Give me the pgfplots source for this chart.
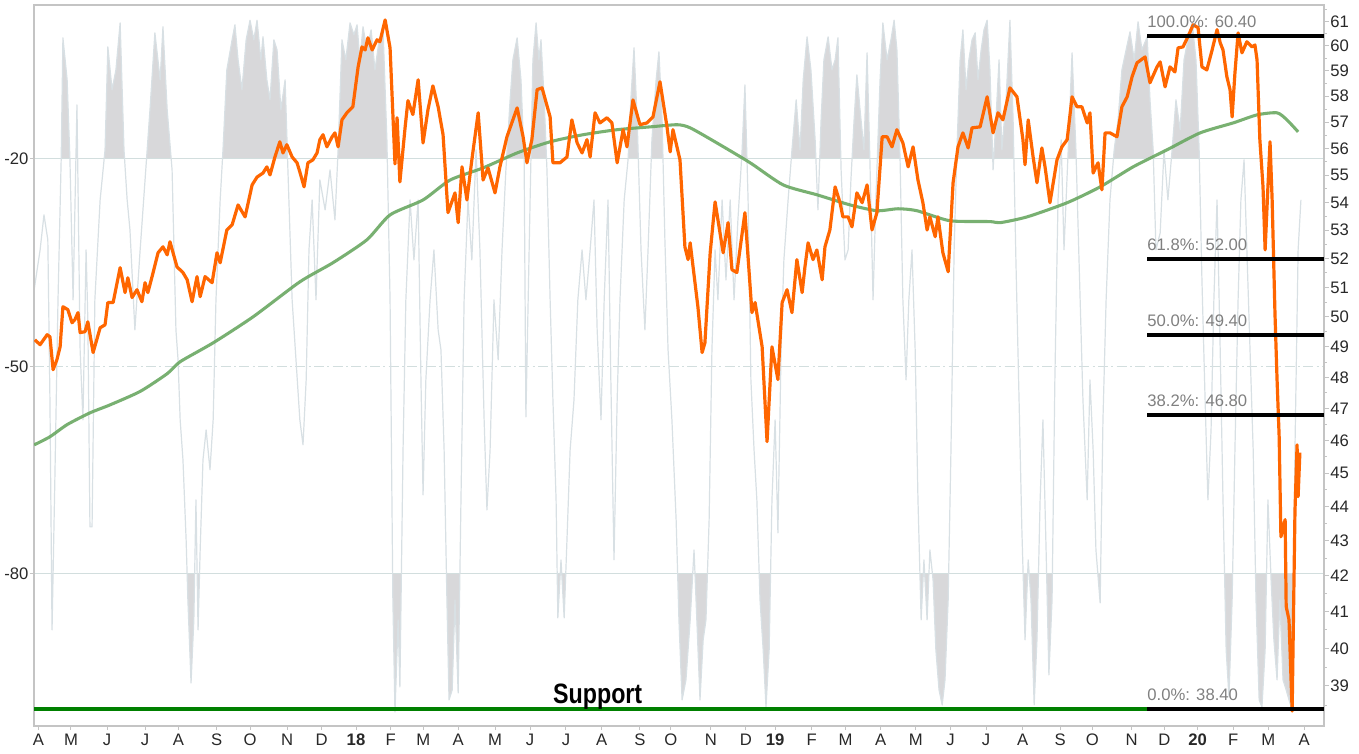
\documentclass[border=0pt]{standalone}
\usepackage{pgfplots}
\pgfplotsset{compat=1.18}
\usepackage{pgfplotstable}
\usepackage{fontspec}
\setmainfont{Liberation Sans}

\definecolor{pricec}{RGB}{255,102,0}
\definecolor{mac}{RGB}{106,168,98}
\definecolor{oscfill}{RGB}{216,216,218}
\definecolor{oscline}{RGB}{216,224,228}
\definecolor{gridc}{RGB}{210,222,222}
\definecolor{framec}{RGB}{196,196,196}
\definecolor{supc}{RGB}{0,128,0}
\definecolor{fibtxt}{RGB}{128,128,128}
\definecolor{tickc}{RGB}{40,40,40}

% price (x: months since 1 Apr 2017, y: price)
\pgfplotstableread{
m p
-0.09 49.23
0.06 49.07
0.26 49.40
0.34 49.33
0.43 48.25
0.54 48.58
0.63 49.00
0.71 50.34
0.85 50.24
0.97 49.80
1.05 49.90
1.14 50.14
1.20 49.47
1.34 49.50
1.42 49.83
1.57 48.81
1.77 49.63
1.91 49.73
1.99 50.48
2.14 50.48
2.34 51.68
2.48 50.82
2.56 51.33
2.68 50.65
2.82 50.92
2.96 50.51
3.05 51.16
3.13 50.82
3.28 51.51
3.42 52.20
3.56 52.41
3.68 52.13
3.76 52.59
3.96 51.71
4.13 51.51
4.25 51.26
4.39 50.51
4.53 51.37
4.62 50.68
4.76 51.37
4.96 51.16
5.10 52.20
5.19 51.85
5.38 53.01
5.53 53.19
5.70 53.91
5.90 53.48
6.10 54.64
6.24 54.93
6.41 55.08
6.52 55.31
6.61 55.01
6.75 55.68
6.89 56.25
6.98 55.83
7.09 56.14
7.24 55.68
7.38 55.46
7.46 55.12
7.58 54.57
7.69 55.46
7.83 55.57
7.95 55.83
8.03 56.33
8.12 56.52
8.23 56.06
8.38 56.44
8.46 56.59
8.55 56.06
8.66 57.09
8.80 57.36
8.97 57.59
9.12 59.16
9.23 59.96
9.32 59.84
9.40 60.33
9.52 59.84
9.66 60.25
9.74 60.17
9.89 61.06
10.03 59.92
10.17 55.42
10.23 57.17
10.31 54.75
10.46 56.82
10.54 57.83
10.68 57.29
10.83 58.65
10.97 56.21
11.11 57.48
11.25 58.41
11.40 57.59
11.54 56.52
11.68 53.63
11.88 54.35
11.97 53.27
12.08 55.31
12.22 54.09
12.36 55.57
12.54 57.36
12.68 54.82
12.82 55.27
13.02 54.35
13.16 55.31
13.36 56.44
13.65 57.55
13.82 56.44
13.93 55.46
14.07 56.33
14.22 58.26
14.36 58.33
14.59 57.20
14.67 55.46
14.87 55.46
15.07 55.68
15.21 57.09
15.36 56.21
15.50 55.83
15.64 56.33
15.73 55.68
15.87 57.36
16.01 56.97
16.21 57.17
16.35 56.97
16.50 55.46
16.67 56.71
16.78 56.06
16.95 57.86
17.15 56.90
17.35 56.97
17.52 57.20
17.72 58.57
17.92 56.82
18.01 55.87
18.09 56.71
18.29 55.57
18.43 52.41
18.52 51.96
18.58 52.55
18.80 50.34
18.92 48.81
19.00 49.13
19.15 52.20
19.29 54.02
19.52 52.20
19.66 53.27
19.77 51.61
19.91 51.51
20.14 53.63
20.34 50.14
20.43 50.48
20.63 49.00
20.77 45.97
20.91 49.00
21.08 47.93
21.20 50.48
21.34 50.92
21.48 50.14
21.62 51.96
21.77 50.82
21.85 51.71
21.94 52.55
22.08 51.96
22.19 52.30
22.34 51.26
22.42 52.41
22.56 53.01
22.71 54.57
22.85 53.99
22.93 53.48
23.08 53.48
23.19 53.12
23.33 54.35
23.48 53.99
23.62 54.64
23.76 53.01
23.90 53.63
24.05 56.44
24.19 56.44
24.33 56.06
24.47 56.71
24.64 56.21
24.79 55.31
24.93 56.06
25.07 54.82
25.21 53.99
25.33 53.01
25.41 53.48
25.56 52.77
25.64 53.48
25.78 52.20
25.93 51.54
26.07 54.72
26.21 56.06
26.35 56.59
26.50 56.02
26.61 56.78
26.84 56.82
27.04 57.98
27.21 56.59
27.35 57.36
27.49 57.09
27.69 58.33
27.89 57.98
28.06 56.33
28.12 55.39
28.21 57.09
28.35 55.68
28.46 54.72
28.60 56.02
28.69 55.31
28.83 53.99
29.03 55.57
29.17 56.06
29.32 56.33
29.46 57.98
29.60 57.59
29.74 57.59
29.89 56.97
29.97 57.36
30.06 55.08
30.20 55.46
30.31 54.46
30.40 56.59
30.54 56.59
30.74 56.44
30.88 57.59
31.03 57.98
31.17 58.77
31.31 59.32
31.54 59.56
31.68 58.53
31.88 59.16
31.97 59.36
32.11 58.37
32.25 59.16
32.39 58.96
32.48 59.92
32.62 59.96
32.76 60.37
32.91 60.86
33.05 60.74
33.16 59.16
33.30 59.04
33.45 59.84
33.59 60.66
33.68 60.13
33.76 59.84
33.87 58.77
33.96 58.26
34.02 57.20
34.10 58.92
34.19 60.53
34.30 59.72
34.44 60.17
34.59 59.96
34.67 60.04
34.73 59.44
34.81 56.33
34.90 54.57
34.96 52.30
35.04 54.57
35.10 56.25
35.16 54.09
35.24 50.14
35.30 47.93
35.36 46.12
35.41 43.12
35.53 43.62
35.56 41.14
35.64 40.78
35.73 38.35
35.81 43.85
35.87 45.87
35.90 44.30
35.95 45.63
}\price

% 200-day moving average
\pgfplotstableread{
m p
-0.11 45.87
0.34 46.12
0.83 46.50
1.48 46.87
2.05 47.12
2.91 47.55
3.68 48.12
4.05 48.51
4.99 49.13
6.13 50.00
7.46 51.19
8.40 51.85
9.37 52.66
10.03 53.55
10.97 54.09
11.74 54.82
12.68 55.27
13.65 55.83
14.59 56.25
15.53 56.52
16.50 56.71
17.44 56.82
18.21 56.90
18.58 56.78
19.34 56.21
20.29 55.46
21.23 54.64
22.19 54.28
23.14 53.91
23.90 53.70
24.50 53.77
25.04 53.70
25.98 53.34
27.12 53.31
27.41 53.27
28.18 53.48
29.32 53.99
30.26 54.57
31.20 55.31
32.17 55.95
33.11 56.59
34.05 56.97
34.73 57.28
35.30 57.36
35.58 57.09
35.90 56.63
}\ma

% oscillator (Williams %R)
\pgfplotstableread{
m v
-0.11 -38.96
0.06 -33.18
0.17 -28.12
0.28 -31.73
0.34 -54.85
0.40 -88.09
0.48 -66.41
0.57 -40.40
0.66 -20.17
0.71 -2.54
0.83 -8.61
0.91 -20.17
1.00 -40.40
1.11 -12.23
1.20 -47.63
1.28 -57.74
1.37 -33.18
1.42 -43.29
1.48 -73.20
1.54 -73.20
1.62 -40.40
1.77 -25.96
1.91 -18.73
1.99 -3.84
2.11 -10.06
2.22 -7.17
2.34 -0.38
2.45 -18.73
2.54 -25.96
2.62 -30.29
2.76 -44.74
2.91 -33.18
3.05 -23.06
3.19 -12.95
3.33 -1.82
3.48 -8.61
3.56 -0.95
3.68 -12.95
3.82 -21.62
3.93 -44.74
3.99 -49.07
4.05 -57.74
4.13 -63.52
4.22 -75.08
4.27 -83.75
4.36 -95.75
4.44 -86.64
4.50 -69.30
4.56 -88.09
4.62 -76.53
4.70 -63.52
4.79 -59.19
4.90 -64.96
4.99 -57.74
5.07 -40.40
5.19 -25.96
5.27 -18.73
5.38 -7.17
5.53 -2.83
5.61 -0.66
5.70 -5.72
5.81 -10.06
5.93 -2.83
6.04 0
6.15 -2.83
6.24 0
6.35 -5.72
6.41 -2.40
6.52 -8.61
6.61 -11.50
6.72 -2.83
6.81 -4.28
6.92 -12.95
7.04 -8.61
7.12 -21.62
7.24 -40.40
7.35 -49.07
7.46 -57.74
7.55 -61.35
7.64 -51.96
7.72 -33.18
7.81 -25.96
7.92 -40.40
8.03 -23.06
8.18 -27.40
8.32 -21.62
8.46 -28.85
8.55 -18.73
8.66 -2.83
8.77 -5.72
8.89 -0.38
9.00 -2.11
9.09 -0.66
9.17 -5.72
9.26 -0.95
9.37 -4.28
9.49 -1.39
9.60 -7.17
9.72 -2.83
9.83 -1.39
9.94 -17.28
10.03 -40.40
10.11 -83.75
10.17 -99.94
10.26 -86.64
10.31 -96.33
10.40 -62.08
10.48 -40.40
10.60 -25.96
10.71 -34.63
10.83 -25.96
10.91 -51.96
10.97 -68.58
11.05 -51.96
11.17 -40.40
11.28 -33.18
11.40 -44.74
11.48 -47.63
11.57 -62.08
11.65 -83.75
11.71 -98.20
11.80 -96.76
11.88 -83.75
11.97 -97.20
12.05 -69.30
12.14 -40.40
12.25 -25.96
12.36 -34.63
12.48 -18.73
12.59 -33.18
12.71 -57.74
12.79 -70.75
12.88 -62.08
12.99 -40.40
13.11 -49.07
13.22 -33.18
13.33 -21.62
13.45 -11.50
13.53 -5.72
13.65 -2.54
13.76 -8.61
13.85 -20.17
13.90 -57.31
14.02 -25.96
14.10 -5.72
14.19 -0.38
14.27 -5.72
14.33 -2.83
14.42 -11.50
14.50 -21.62
14.59 -40.40
14.67 -54.85
14.76 -69.30
14.81 -86.36
14.90 -77.97
14.99 -86.36
15.07 -75.08
15.16 -62.08
15.27 -54.85
15.38 -40.40
15.50 -33.18
15.61 -40.40
15.73 -33.18
15.84 -25.96
15.93 -44.74
16.04 -57.74
16.13 -40.40
16.24 -25.96
16.32 -51.96
16.41 -77.97
16.50 -54.85
16.58 -40.40
16.70 -25.96
16.81 -20.17
16.89 -11.50
16.98 -3.99
17.07 -14.39
17.18 -33.18
17.29 -44.74
17.38 -33.18
17.49 -17.28
17.61 -8.61
17.69 -4.57
17.78 -14.39
17.86 -31.73
17.95 -47.63
18.06 -57.74
18.18 -72.19
18.26 -86.64
18.35 -98.20
18.46 -95.31
18.58 -86.64
18.69 -76.53
18.77 -86.64
18.86 -98.20
18.95 -89.53
19.03 -86.64
19.12 -72.19
19.20 -47.63
19.29 -33.18
19.37 -40.40
19.49 -25.96
19.60 -37.52
19.72 -25.96
19.83 -40.40
19.94 -28.85
20.06 -18.73
20.14 -9.34
20.23 -25.96
20.31 -51.96
20.40 -62.08
20.48 -69.30
20.57 -83.75
20.66 -90.98
20.74 -99.22
20.83 -90.98
20.91 -69.30
21.00 -57.74
21.08 -74.07
21.17 -47.63
21.25 -34.63
21.37 -25.96
21.48 -18.73
21.60 -11.50
21.71 -18.73
21.80 -8.61
21.91 -2.40
22.02 -7.17
22.14 -17.28
22.22 -27.40
22.31 -14.39
22.39 -5.72
22.51 -2.40
22.62 -7.17
22.71 -5.72
22.79 -2.54
22.88 -21.62
22.99 -34.63
23.08 -33.18
23.16 -23.06
23.25 -14.39
23.33 -7.89
23.42 -12.95
23.53 -18.73
23.62 -4.71
23.70 -20.17
23.79 -40.40
23.87 -25.96
23.99 -8.61
24.07 -0.38
24.19 -5.72
24.30 -2.83
24.39 0
24.47 -4.28
24.56 -20.17
24.64 -40.40
24.73 -51.96
24.81 -40.40
24.90 -33.18
24.99 -47.63
25.07 -69.30
25.16 -86.64
25.24 -77.97
25.33 -86.64
25.41 -76.53
25.50 -80.86
25.58 -90.98
25.67 -96.76
25.76 -98.93
25.84 -95.31
25.93 -83.75
26.01 -62.08
26.10 -33.18
26.18 -18.73
26.27 -5.72
26.35 -1.39
26.44 -10.06
26.52 -5.72
26.61 -2.83
26.70 -1.82
26.78 -8.61
26.87 -4.28
26.95 -1.39
27.04 0
27.12 -7.17
27.21 -21.62
27.29 -14.39
27.38 -5.72
27.46 -18.73
27.58 -11.50
27.69 0
27.78 -14.39
27.86 -34.63
27.95 -54.85
28.03 -73.64
28.12 -89.53
28.21 -77.97
28.29 -83.75
28.38 -98.93
28.46 -89.53
28.55 -69.30
28.63 -57.74
28.72 -76.53
28.80 -94.59
28.89 -83.75
28.97 -51.96
29.06 -25.96
29.15 -17.28
29.23 -33.18
29.35 -18.73
29.46 -4.71
29.57 -18.73
29.69 -40.40
29.77 -54.85
29.89 -69.30
29.97 -51.96
30.06 -62.08
30.14 -76.53
30.26 -84.19
30.34 -57.74
30.43 -40.40
30.54 -25.96
30.66 -18.73
30.77 -14.39
30.88 -7.17
31.00 -4.28
31.11 -1.68
31.23 -5.72
31.34 -0.23
31.45 -4.28
31.60 -2.40
31.68 -11.50
31.77 -18.73
31.85 -33.18
31.97 -30.72
32.08 -18.73
32.19 -25.96
32.31 -18.73
32.42 -11.50
32.54 -15.84
32.65 -5.72
32.76 -2.83
32.88 -0.23
32.99 -5.72
33.08 -18.73
33.16 -37.52
33.25 -54.85
33.33 -69.30
33.42 -59.19
33.50 -40.40
33.59 -25.96
33.68 -47.63
33.76 -69.30
33.85 -90.98
33.93 -97.77
34.02 -83.75
34.10 -62.08
34.19 -40.40
34.27 -25.96
34.36 -20.17
34.44 -33.18
34.53 -47.63
34.62 -62.08
34.70 -83.75
34.79 -98.20
34.87 -99.22
34.96 -90.98
35.04 -69.30
35.13 -80.86
35.21 -89.53
35.30 -95.31
35.38 -83.75
35.47 -95.31
35.56 -96.76
35.64 -98.20
35.73 -99.65
35.81 -62.08
35.90 -33.18
35.98 -25.96
}\osc

\begin{document}
\begin{tikzpicture}
\useasboundingbox (0,0) rectangle (1019.25pt,564.75pt);

% ---------- oscillator axis (left scale) ----------
\begin{axis}[
  at={(25.5pt,20.25pt)}, anchor=south west, scale only axis,
  width=967.5pt, height=540.75pt,
  xmin=-0.114, xmax=36.638, ymin=-101.97, ymax=2.2,
  axis on top,
  axis line style={draw=framec, line width=1pt},
  xtick={0.01,0.94,1.97,3.05,4.00,5.09,6.04,7.10,8.08,9.06,10.05,10.98,11.97,13.02,14.02,15.04,16.06,17.15,18.03,19.17,20.17,21.00,22.04,23.01,24.01,25.01,26.00,27.01,28.05,29.12,30.04,31.16,32.09,33.04,34.05,35.05,36.07},
  xticklabels={A,M,J,J,A,S,O,N,D,\textbf{18},F,M,A,M,J,J,A,S,O,N,D,\textbf{19},F,M,A,M,J,J,A,S,O,N,D,\textbf{20},F,M,A},
  ytick={-80,-50,-20}, yticklabels={-80,-50,-20},
  xtick pos=left, ytick pos=left,
  tick align=outside, major tick length=3pt,
  tick style={draw=framec, line width=0.75pt},
  xticklabel style={font=\fontsize{12.5}{14}\selectfont, text=tickc, inner sep=0pt, anchor=north, yshift=-3pt},
  yticklabel style={font=\fontsize{12.5}{14}\selectfont, text=tickc, inner sep=0pt, anchor=east, xshift=-1pt},
]
  \addplot[fill=oscfill, draw=none] table[x=m, y=v] {\osc}
     -- (axis cs:35.98,-50) -- (axis cs:-0.11,-50) -- cycle;
  \fill[white] (axis cs:-0.114,-80) rectangle (axis cs:36.638,-20);
  \draw[gridc, line width=0.75pt] (axis cs:-0.114,-20) -- (axis cs:36.638,-20);
  \draw[gridc, line width=0.75pt] (axis cs:-0.114,-80) -- (axis cs:36.638,-80);
  \draw[gridc, line width=0.75pt, dash pattern=on 7.5pt off 2.5pt on 1.5pt off 2.5pt]
     (axis cs:-0.114,-50) -- (axis cs:36.638,-50);
  \addplot[oscline, line width=0.9pt, line join=round] table[x=m, y=v] {\osc};
\end{axis}

% ---------- price axis (right, log scale) ----------
\begin{axis}[
  at={(25.5pt,20.25pt)}, anchor=south west, scale only axis,
  width=967.5pt, height=540.75pt,
  xmin=-0.114, xmax=36.638,
  ymode=log, ymin=37.97, ymax=61.68,
  hide x axis,
  axis line style={draw=none},
  ytick pos=right, yticklabel pos=right,
  ytick={39,40,41,42,43,44,45,46,47,48,49,50,51,52,53,54,55,56,57,58,59,60,61},
  yticklabels={39,40,41,42,43,44,45,46,47,48,49,50,51,52,53,54,55,56,57,58,59,60,61},
  minor ytick={38.5,39.5,40.5,41.5,42.5,43.5,44.5,45.5,46.5,47.5,48.5,49.5,50.5,51.5,52.5,53.5,54.5,55.5,56.5,57.5,58.5,59.5,60.5,61.5},
  tick align=outside, major tick length=3.5pt, minor tick length=2pt,
  tick style={draw=framec, line width=0.75pt},
  yticklabel style={font=\fontsize{12.5}{14}\selectfont, text=tickc, inner sep=0pt, anchor=west, xshift=1pt},
]
  \addplot[mac, line width=2.3pt, opacity=0.9, smooth, tension=0.4] table[x=m, y=p] {\ma};
  \addplot[pricec, line width=2.4pt, line join=round] table[x=m, y=p] {\price};
  \addplot[supc, line width=3pt] coordinates {(-0.114,38.4) (36.638,38.4)};
  \addplot[black, line width=3pt] coordinates {(31.60,60.40) (36.638,60.40)};
  \addplot[black, line width=3pt] coordinates {(31.60,52.00) (36.638,52.00)};
  \addplot[black, line width=3pt] coordinates {(31.60,49.40) (36.638,49.40)};
  \addplot[black, line width=3pt] coordinates {(31.60,46.80) (36.638,46.80)};
  \addplot[black, line width=3pt] coordinates {(31.60,38.40) (36.638,38.40)};
  \begin{scope}[every node/.style={anchor=base west, inner sep=0pt, text=fibtxt, font=\fontsize{12.5}{14}\selectfont, yshift=6.3pt}]
    \node at (axis cs:31.60,60.40) {100.0\%: 60.40};
    \node at (axis cs:31.60,52.00) {61.8\%: 52.00};
    \node at (axis cs:31.60,49.40) {50.0\%: 49.40};
    \node at (axis cs:31.60,46.80) {38.2\%: 46.80};
    \node at (axis cs:31.60,38.40) {0.0\%: 38.40};
  \end{scope}
  \node[anchor=base west, inner sep=0pt, font=\bfseries\fontsize{21}{24}\selectfont, xscale=0.83, yshift=4.5pt] at (axis cs:14.67,38.4) {Support};
\end{axis}
\end{tikzpicture}
\end{document}
